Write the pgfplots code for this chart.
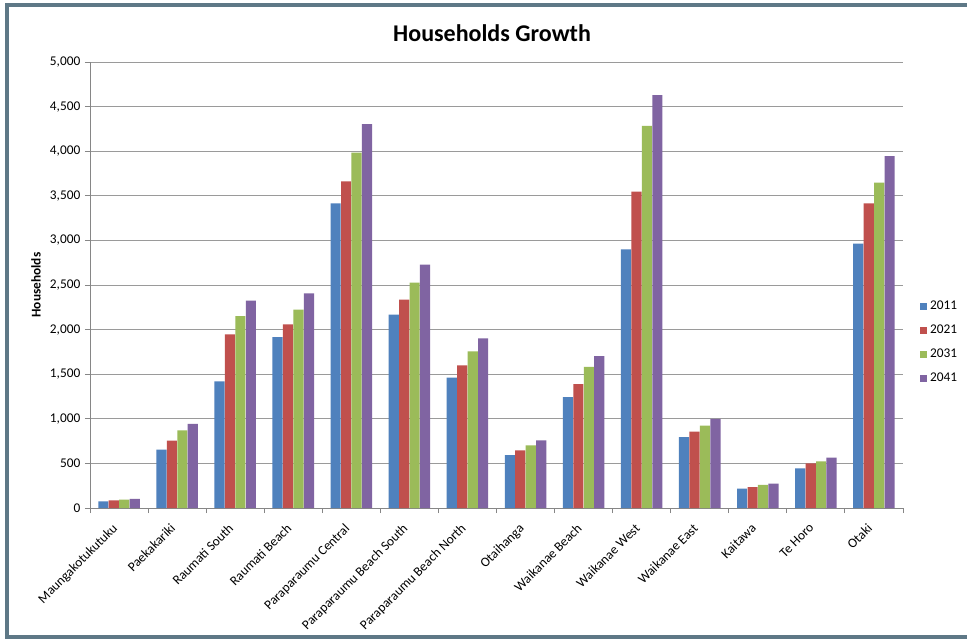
\documentclass[border=0pt]{standalone}
\usepackage{pgfplots}
\pgfplotsset{compat=1.18}
\usepackage{fontspec}
\setmainfont{Carlito}
\definecolor{frame}{HTML}{5E7886}
\definecolor{axgray}{HTML}{868686}
\definecolor{gridgray}{HTML}{9A9A9A}
\definecolor{c11}{HTML}{4F81BD}
\definecolor{c21}{HTML}{C0504D}
\definecolor{c31}{HTML}{9BBB59}
\definecolor{c41}{HTML}{8064A2}
\begin{document}
\begin{tikzpicture}
\path[use as bounding box] (0,0) rectangle (725.25pt,-479.25pt);
\fill[white] (0,0) rectangle (725.25pt,-479.25pt);
\draw[line width=3pt, color=frame] (967*0.75pt,-5*0.75pt) -- (6.5*0.75pt,-5*0.75pt) -- (6.5*0.75pt,-637*0.75pt) -- (967*0.75pt,-637*0.75pt);
\begin{axis}[
  at={(90*0.75pt,-508*0.75pt)}, anchor=south west,
  scale only axis, width=813*0.75pt, height=446*0.75pt,
  xmin=-0.5, xmax=13.5, ymin=0, ymax=5000,
  ytick={0,500,...,5000},
  xtick={0,...,13},
  xticklabels={Maungakotukutuku,Paekakariki,Raumati South,Raumati Beach,Paraparaumu Central,Paraparaumu Beach South,Paraparaumu Beach North,Otaihanga,Waikanae Beach,Waikanae West,Waikanae East,Kaitawa,Te Horo,Otaki},
  minor xtick={-0.5,0.5,...,13.5},
  axis lines=left, axis line style={-, color=axgray, line width=0.75pt},
  ymajorgrids, grid style={color=gridgray, line width=0.75pt},
  tick align=outside,
  major tick length=3.75pt, minor tick length=3.75pt,
  major x tick style={draw=none},
  minor x tick style={color=axgray, line width=0.75pt},
  y tick style={color=axgray, line width=0.75pt},
  ticklabel style={font=\fontsize{10}{12}\selectfont},
  yticklabel style={/pgf/number format/.cd, 1000 sep={,}, assume math mode=true},
  x tick label style={rotate=45, anchor=north east, inner sep=1pt, xshift=-8pt},
  ylabel={Households},
  ylabel style={font=\bfseries\fontsize{10}{12}\selectfont, at={(axis description cs:-0.0664,0.5)}, anchor=center},
  title={Households Growth},
  title style={font=\bfseries\fontsize{18}{22}\selectfont, at={(axis description cs:0.4945,1.047)}, anchor=center},
  legend style={at={(axis description cs:1.021,0.372)}, anchor=west, draw=none, fill=none, font=\fontsize{10}{12}\selectfont, row sep=6pt, inner sep=0pt},
  legend cell align=left,
  legend image code/.code={\fill[#1] (0pt,-2.6pt) rectangle (5.25pt,2.6pt);},
  bar width=0.175,
]
\addplot[ybar, bar shift=-0.27, fill=c11, draw=none] coordinates {(0,75) (1,654) (2,1420) (3,1917) (4,3416) (5,2167) (6,1461) (7,594) (8,1244) (9,2900) (10,796) (11,217) (12,445) (13,2963)};
\addplot[ybar, bar shift=-0.09, fill=c21, draw=none] coordinates {(0,86) (1,755) (2,1947) (3,2059) (4,3662) (5,2335) (6,1600) (7,647) (8,1390) (9,3546) (10,856) (11,235) (12,501) (13,3416)};
\addplot[ybar, bar shift=0.09, fill=c31, draw=none] coordinates {(0,93) (1,871) (2,2152) (3,2223) (4,3985) (5,2526) (6,1757) (7,703) (8,1582) (9,4283) (10,923) (11,258) (12,523) (13,3647)};
\addplot[ybar, bar shift=0.27, fill=c41, draw=none] coordinates {(0,101) (1,942) (2,2324) (3,2407) (4,4305) (5,2728) (6,1902) (7,759) (8,1704) (9,4630) (10,998) (11,273) (12,564) (13,3946)};
\legend{2011,2021,2031,2041}
\end{axis}
\end{tikzpicture}
\end{document}
